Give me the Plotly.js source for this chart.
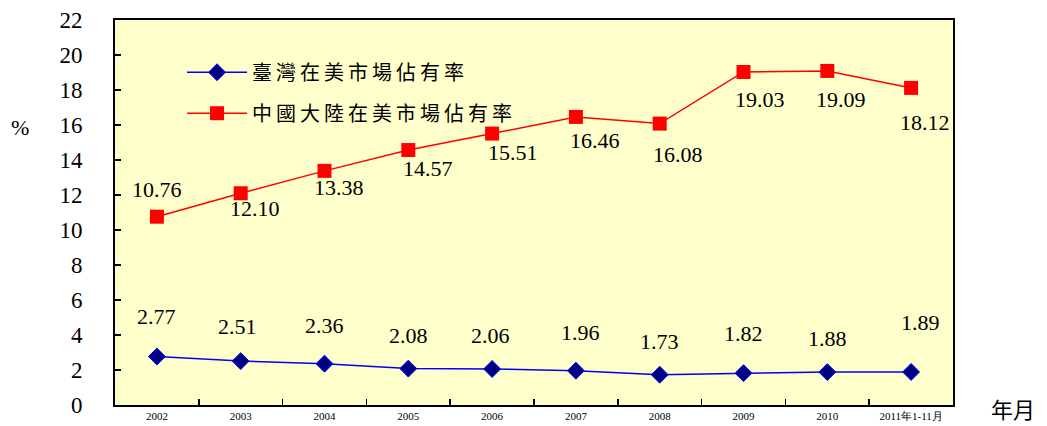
<!DOCTYPE html>
<html>
<head>
<meta charset="utf-8">
<script src="https://cdn.plot.ly/plotly-3.0.1.min.js"></script>
<style>
html,body{margin:0;padding:0;background:#fff;}
#chart{width:1047px;height:426px;}
#chart .legendtext{letter-spacing:4px;}
</style>
</head>
<body>
<div id="chart"></div>
<script>
const categories = ["2002","2003","2004","2005","2006","2007","2008","2009","2010","2011年1-11月"];
const taiwanShare = [2.77, 2.51, 2.36, 2.08, 2.06, 1.96, 1.73, 1.82, 1.88, 1.89];
const chinaShare = [10.76, 12.10, 13.38, 14.57, 15.51, 16.46, 16.08, 19.03, 19.09, 18.12];
const taiwanName = "臺灣在美市場佔有率";
const chinaName = "中國大陸在美市場佔有率";
const yTicks = [0,2,4,6,8,10,12,14,16,18,20,22];

// label offsets (pixels) for data labels
const twDx = [0, -3, 0, 0, -2, 5, 0, 0, 0, 9];
const twDy = [40, 35, 38, 33, 33, 38, 33, 40, 34, 49];
const cnDx = [0, 14, 14, 20, 21, 19, 18, 16, 14, 14];
const cnDy = [27, -15, -17, -18, -19, -24, -31, -28, -29, -35];

const serif = "'Liberation Serif', 'Times New Roman', serif";
const cjk = "'Noto Sans CJK TC', 'Noto Sans CJK SC', sans-serif";

const idx = categories.map((c, i) => i);

const traces = [
  {
    x: idx, y: taiwanShare, name: taiwanName, legendgroup: "tw", type: "scatter", mode: "lines+markers",
    line: {color: "#0000FF", width: 1.5},
    marker: {symbol: "diamond", size: 13, color: "#000080", line: {color: "#0000FF", width: 1}}
  },
  {
    x: idx, y: chinaShare, name: chinaName, legendgroup: "cn", type: "scatter", mode: "lines+markers",
    line: {color: "#FF0000", width: 1.5},
    marker: {symbol: "square", size: 14, color: "#FF0000"}
  }
];

const annotations = [];
idx.forEach(i => {
  annotations.push({x: i, y: taiwanShare[i], text: taiwanShare[i].toFixed(2), showarrow: false,
    xshift: twDx[i], yshift: twDy[i], font: {family: serif, size: 22, color: "#000"}});
  annotations.push({x: i, y: chinaShare[i], text: chinaShare[i].toFixed(2), showarrow: false,
    xshift: cnDx[i], yshift: cnDy[i], font: {family: serif, size: 22, color: "#000"}});
});
annotations.push({xref: "paper", yref: "paper", x: -0.113, y: 0.72, text: "%", showarrow: false,
  xanchor: "center", yanchor: "middle", font: {family: serif, size: 22, color: "#000"}});
annotations.push({xref: "paper", yref: "paper", x: 1.072, y: -0.008, text: "年月", showarrow: false,
  xanchor: "center", yanchor: "middle", font: {family: cjk, size: 22, color: "#000"}});

const layout = {
  width: 1047, height: 426,
  margin: {l: 115, r: 94, t: 20, b: 21},
  paper_bgcolor: "#FFFFFF",
  plot_bgcolor: "#FFFFCC",
  showlegend: true,
  legend: {x: 0.08, y: 0.915, xanchor: "left", yanchor: "top", bgcolor: "rgba(0,0,0,0)",
    traceorder: "grouped", tracegroupgap: 12, itemwidth: 60,
    font: {family: cjk, size: 20, color: "#000"}},
  xaxis: {
    range: [-0.5, categories.length - 0.5],
    tickvals: idx, ticktext: categories,
    showline: true, linecolor: "#000", linewidth: 2, mirror: true,
    ticks: "", showgrid: false, zeroline: false,
    tickfont: {family: serif, size: 11, color: "#000"}
  },
  xaxis2: {
    overlaying: "x", matches: "x", range: [-0.5, categories.length - 0.5],
    tickvals: idx.slice(1).map(i => i - 0.5), showticklabels: false,
    ticks: "inside", ticklen: 6, tickcolor: "#000", tickwidth: 1.5,
    showgrid: false, zeroline: false, showline: false
  },
  yaxis: {
    range: [0, 22], tickvals: yTicks, ticktext: yTicks.map(String),
    showline: true, linecolor: "#000", linewidth: 2, mirror: true,
    ticks: "inside", ticklen: 6, tickcolor: "#000", tickwidth: 1.5,
    showgrid: false, zeroline: false, ticklabelstandoff: 26,
    tickfont: {family: serif, size: 23, color: "#000"}
  },
  annotations: annotations
};

// invisible trace to show xaxis2 tick marks
traces.push({x: [0], y: [0], xaxis: "x2", type: "scatter", mode: "markers",
  marker: {opacity: 0}, showlegend: false, hoverinfo: "skip"});

function unclipLegend() {
  document.querySelectorAll('#chart .legend, #chart .legend .scrollbox').forEach(e => e.removeAttribute('clip-path'));
}

Plotly.newPlot("chart", traces, layout, {displayModeBar: false, staticPlot: true}).then(() => {
  unclipLegend();
  document.getElementById("chart").on("plotly_afterplot", unclipLegend);
});
</script>
</body>
</html>
